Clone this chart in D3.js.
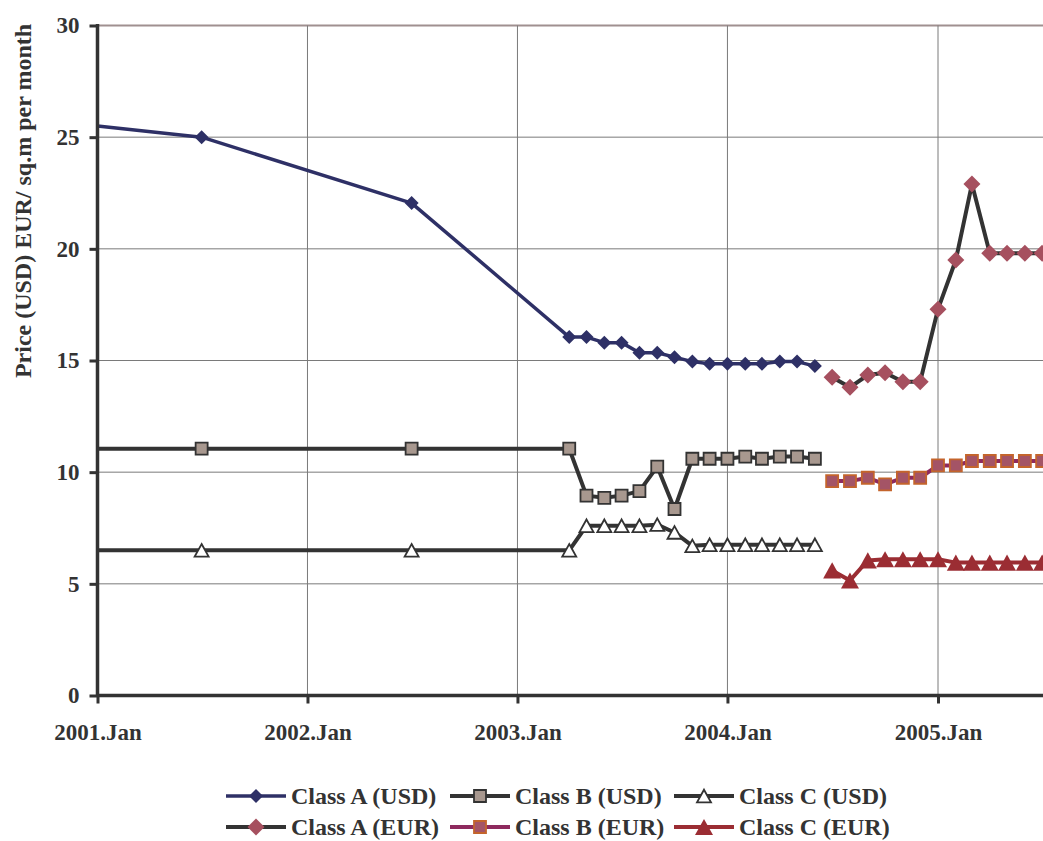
<!DOCTYPE html>
<html>
<head>
<meta charset="utf-8">
<script src="https://cdn.jsdelivr.net/npm/d3@7"></script>
<style>
  html, body { margin: 0; padding: 0; background: #fff; }
  svg { display: block; }
  text { font-family: "Liberation Serif", "Times New Roman", serif; font-weight: bold; fill: #333; }
</style>
</head>
<body>
<svg id="chart" width="1043" height="841"></svg>
<script>
// Office rent levels, monthly observations
const usdDates = ["2001-01", "2001-07", "2002-07", "2003-04", "2003-05", "2003-06", "2003-07", "2003-08",
  "2003-09", "2003-10", "2003-11", "2003-12", "2004-01", "2004-02", "2004-03", "2004-04", "2004-05", "2004-06"];
const classAUsd = [25.5, 25.0, 22.05, 16.05, 16.05, 15.8, 15.8, 15.35, 15.35, 15.15, 14.95, 14.85, 14.85, 14.85, 14.85, 14.95, 14.95, 14.75];
const classBUsd = [11.05, 11.05, 11.05, 11.05, 8.95, 8.85, 8.95, 9.15, 10.25, 8.35, 10.6, 10.6, 10.6, 10.7, 10.6, 10.7, 10.7, 10.6];
const classCUsd = [6.5, 6.5, 6.5, 6.5, 7.6, 7.6, 7.6, 7.6, 7.65, 7.3, 6.7, 6.75, 6.75, 6.75, 6.75, 6.75, 6.75, 6.75];

const eurDates = ["2004-07", "2004-08", "2004-09", "2004-10", "2004-11", "2004-12", "2005-01",
  "2005-02", "2005-03", "2005-04", "2005-05", "2005-06", "2005-07"];
const classAEur = [14.25, 13.8, 14.35, 14.45, 14.05, 14.05, 17.3, 19.5, 22.9, 19.8, 19.8, 19.8, 19.8];
const classBEur = [9.6, 9.6, 9.75, 9.45, 9.75, 9.75, 10.3, 10.3, 10.5, 10.5, 10.5, 10.5, 10.5];
const classCEur = [5.6, 5.15, 6.05, 6.1, 6.1, 6.1, 6.1, 5.95, 5.95, 5.95, 5.95, 5.95, 5.95];

const yTicks = [0, 5, 10, 15, 20, 25, 30];
const xTickLabels = ["2001.Jan", "2002.Jan", "2003.Jan", "2004.Jan", "2005.Jan"];
const yTitle = "Price (USD) EUR/ sq.m per month";

const parse = d3.timeParse("%Y-%m");
const yearTicks = xTickLabels.map(s => parse(s.slice(0, 4) + "-01"));

const seriesDefs = [
  { name: "Class A (USD)", dates: usdDates, values: classAUsd, line: "#2E3066", lw: 3.5,
    shape: "diamond", size: 14, fill: "#2E3066", stroke: "none" },
  { name: "Class B (USD)", dates: usdDates, values: classBUsd, line: "#333333", lw: 4,
    shape: "square", size: 12, fill: "#A8988F", stroke: "#333333" },
  { name: "Class C (USD)", dates: usdDates, values: classCUsd, line: "#333333", lw: 4,
    shape: "triangle", size: 14, fill: "#ffffff", stroke: "#333333" },
  { name: "Class A (EUR)", dates: eurDates, values: classAEur, line: "#333333", lw: 4,
    shape: "diamond", size: 17, fill: "#A6505F", stroke: "none" },
  { name: "Class B (EUR)", dates: eurDates, values: classBEur, line: "#8E2A5E", lw: 4,
    shape: "square", size: 12, fill: "#A45466", stroke: "#C4642C" },
  { name: "Class C (EUR)", dates: eurDates, values: classCEur, line: "#9B2D33", lw: 4,
    shape: "triangle", size: 18, fill: "#9B2D33", stroke: "none" }
];

const svg = d3.select("#chart");
const W = 1043;

const x = d3.scaleTime()
  .domain([parse("2001-01"), parse("2005-01")])
  .range([97.5, 938]);
const y = d3.scaleLinear().domain([0, 30]).range([695.5, 25.5]);

// Marker shapes, centred on their bounding box
function markerPath(shape, s) {
  const h = s / 2;
  if (shape === "diamond") return `M0,${-h}L${h},0L0,${h}L${-h},0Z`;
  if (shape === "square") return `M${-h},${-h}H${h}V${h}H${-h}Z`;
  const th = s * 0.9 / 2;
  return `M0,${-th}L${h},${th}L${-h},${th}Z`;
}

// Grid
const grid = svg.append("g");
grid.selectAll("line.h").data(yTicks.filter(v => v > 0 && v < 30)).join("line")
  .attr("x1", x.range()[0]).attr("x2", W)
  .attr("y1", d => y(d)).attr("y2", d => y(d))
  .attr("stroke", "#7a7a7a").attr("stroke-width", 1);
grid.append("line")
  .attr("x1", x.range()[0]).attr("x2", W)
  .attr("y1", y(30)).attr("y2", y(30))
  .attr("stroke", "#A09090").attr("stroke-width", 2);
grid.selectAll("line.v").data(yearTicks.slice(1)).join("line")
  .attr("x1", d => x(d)).attr("x2", d => x(d))
  .attr("y1", y(30)).attr("y2", y(0))
  .attr("stroke", "#7a7a7a").attr("stroke-width", 1);

// Series
const lineGen = d3.line().x(d => x(d.date)).y(d => y(d.value));
const plot = svg.append("g");
seriesDefs.forEach(s => {
  const pts = s.dates.map((d, i) => ({ date: parse(d), value: s.values[i] }));
  plot.append("path").datum(pts)
    .attr("d", lineGen)
    .attr("fill", "none").attr("stroke", s.line).attr("stroke-width", s.lw)
    .attr("stroke-linejoin", "round");
  plot.selectAll(null).data(pts.filter(p => p.date > x.domain()[0])).join("path")
    .attr("transform", p => `translate(${x(p.date)},${y(p.value)})`)
    .attr("d", markerPath(s.shape, s.size))
    .attr("fill", s.fill)
    .attr("stroke", s.stroke).attr("stroke-width", s.stroke === "none" ? 0 : 1.8);
});

// Axes
const yAxis = svg.append("g").attr("transform", `translate(${x.range()[0]},0)`)
  .call(d3.axisLeft(y).tickValues(yTicks).tickSize(8).tickPadding(10));
const xAxis = svg.append("g").attr("transform", `translate(0,${y(0)})`)
  .call(d3.axisBottom(x).tickValues(yearTicks).tickSize(8).tickPadding(20)
    .tickFormat((d, i) => xTickLabels[i]));
[yAxis, xAxis].forEach(g => {
  g.select(".domain").remove();
  g.selectAll(".tick line").attr("stroke", "#333").attr("stroke-width", 3);
  g.selectAll(".tick text").attr("fill", "#333")
    .style("font-family", "'Liberation Serif', serif").style("font-weight", "bold").style("font-size", "23px");
});
svg.append("line")
  .attr("x1", x.range()[0]).attr("x2", W).attr("y1", y(0)).attr("y2", y(0))
  .attr("stroke", "#333").attr("stroke-width", 3.5);
svg.append("line")
  .attr("x1", x.range()[0]).attr("x2", x.range()[0]).attr("y1", y(30) - 1.5).attr("y2", y(0) + 1.5)
  .attr("stroke", "#333").attr("stroke-width", 3.5);

// Axis title
svg.append("text")
  .attr("transform", "translate(31,201) rotate(-90)")
  .attr("text-anchor", "middle")
  .style("font-size", "24px")
  .text(yTitle);

// Legend
const legendCols = [226, 450, 674];
const legendRows = [796, 827];
seriesDefs.forEach((s, i) => {
  const g = svg.append("g")
    .attr("transform", `translate(${legendCols[i % 3]},${legendRows[Math.floor(i / 3)]})`);
  g.append("line").attr("x1", 0).attr("x2", 60).attr("y1", 0).attr("y2", 0)
    .attr("stroke", s.line).attr("stroke-width", s.lw);
  g.append("path").attr("transform", "translate(30,0)")
    .attr("d", markerPath(s.shape, s.size))
    .attr("fill", s.fill)
    .attr("stroke", s.stroke).attr("stroke-width", s.stroke === "none" ? 0 : 1.8);
  g.append("text").attr("x", 65).attr("y", 0).attr("dy", "0.32em")
    .style("font-size", "24px")
    .text(s.name);
});
</script>
</body>
</html>
